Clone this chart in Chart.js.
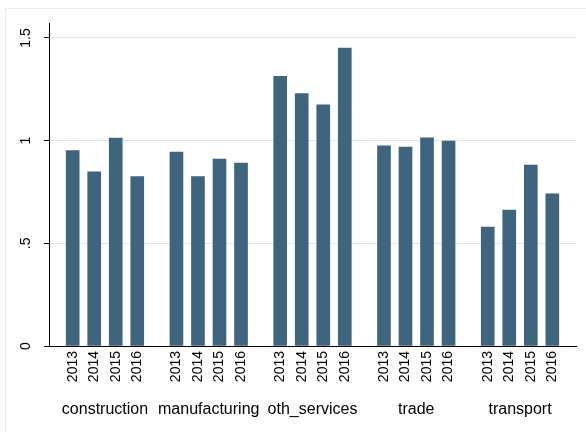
<!DOCTYPE html>
<html>
<head>
<meta charset="utf-8">
<script src="https://cdn.jsdelivr.net/npm/chart.js@4"></script>
<style>
    body { margin: 0; background: #fff; }
    #wrap { position: relative; width: 586px; height: 432px; overflow: hidden; }
    #frame { position: absolute; left: 5px; top: 8px; width: 620px; height: 460px; border: 1px solid #ececec; }
    canvas { position: absolute; left: 0; top: 0; }
</style>
</head>
<body>
<div id="wrap">
    <div id="frame"></div>
    <canvas id="barChart" width="586" height="432"></canvas>
</div>
<script>
// Sectors and years
const groups = ['construction', 'manufacturing', 'oth_services', 'trade', 'transport'];
const years = ['2013', '2014', '2015', '2016'];

// Values per sector, one per year
const construction = [0.952, 0.848, 1.013, 0.825];
const manufacturing = [0.944, 0.825, 0.910, 0.891];
const othServices = [1.313, 1.229, 1.174, 1.451];
const trade = [0.975, 0.969, 1.014, 0.998];
const transport = [0.579, 0.662, 0.881, 0.741];

// Y axis ticks, Stata style labels
const yTicks = [0, 0.5, 1, 1.5];
const yTickLabels = ['0', '.5', '1', '1.5'];

const values = [construction, manufacturing, othServices, trade, transport];

// Gap between groups, in bar slots
const GROUP_STEP = 4.82;
const X_MIN = -1.1;
const X_MAX = (groups.length - 1) * GROUP_STEP + (years.length - 1) + 1.1;

// One bar per sector/year, placed by group and year index
const points = [];
const yearTicks = [];
values.forEach((row, g) => {
    row.forEach((v, k) => {
        const x = g * GROUP_STEP + k;
        points.push({ x: x, y: v });
        yearTicks.push(x);
    });
});
const groupTicks = groups.map((name, g) => g * GROUP_STEP + (years.length - 1) / 2);

const font = 'Liberation Sans, Arial, Helvetica, sans-serif';

const ctx = document.getElementById('barChart').getContext('2d');
new Chart(ctx, {
    type: 'bar',
    data: {
        datasets: [{
            data: points,
            backgroundColor: '#3E647E',
            borderWidth: 0,
            barThickness: 13
        }]
    },
    options: {
        responsive: false,
        animation: false,
        layout: { padding: { left: 0, top: 23, right: 10, bottom: 0 } },
        plugins: {
            legend: { display: false },
            tooltip: { enabled: false }
        },
        scales: {
            x: {
                type: 'linear',
                position: 'bottom',
                weight: 0,
                min: X_MIN,
                max: X_MAX,
                offset: false,
                grid: { display: false, drawTicks: false },
                border: { display: true, color: '#000', width: 1 },
                afterBuildTicks: scale => { scale.ticks = yearTicks.map(v => ({ value: v })); },
                afterFit: scale => { scale.height = 46; },
                ticks: {
                    autoSkip: false,
                    minRotation: 90,
                    maxRotation: 90,
                    padding: 5,
                    color: '#000',
                    font: { family: font, size: 14 },
                    callback: (value, index) => years[index % years.length]
                }
            },
            x2: {
                type: 'linear',
                position: 'bottom',
                weight: 1,
                min: X_MIN,
                max: X_MAX,
                offset: false,
                grid: { display: false, drawTicks: false },
                border: { display: false },
                afterBuildTicks: scale => { scale.ticks = groupTicks.map(v => ({ value: v })); },
                afterFit: scale => { scale.height = 40; },
                ticks: {
                    autoSkip: false,
                    maxRotation: 0,
                    padding: 8,
                    color: '#000',
                    font: { family: font, size: 16 },
                    callback: (value, index) => groups[index]
                }
            },
            y: {
                min: 0,
                max: 1.573,
                afterBuildTicks: scale => { scale.ticks = yTicks.map(v => ({ value: v })); },
                afterFit: scale => { scale.width = 49; },
                grid: {
                    color: '#e6e6e6',
                    lineWidth: 1,
                    drawTicks: true,
                    tickLength: 5,
                    tickColor: '#000',
                    tickWidth: 1
                },
                border: { display: true, color: '#000', width: 1 },
                ticks: {
                    minRotation: 90,
                    maxRotation: 90,
                    crossAlign: 'center',
                    padding: 8,
                    color: '#000',
                    font: { family: font, size: 14 },
                    callback: (value, index) => yTickLabels[index]
                }
            }
        }
    }
});
</script>
</body>
</html>
